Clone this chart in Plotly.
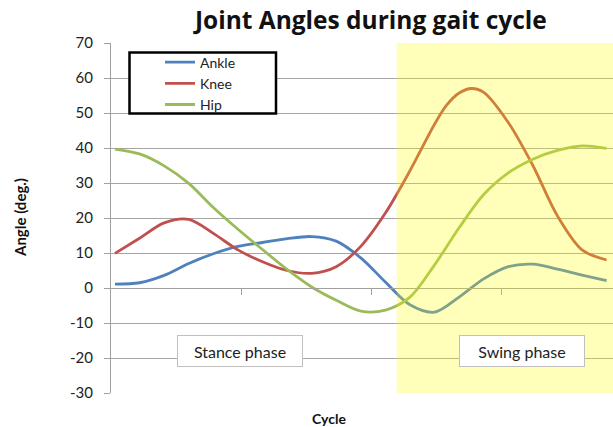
import plotly.graph_objects as go

# ---- data ----
cycle_pct = [0, 5, 10, 15, 20, 25, 30, 35, 40, 45, 50, 55, 60, 65, 70, 75, 80, 85, 90, 95, 100]
ankle = [1.1, 1.5, 3.6, 7.0, 9.8, 11.9, 13.0, 14.1, 14.7, 13.4, 8.6, 1.7, -4.8, -6.9, -2.6, 2.6, 6.1, 6.8, 5.4, 3.7, 2.1]
knee_pct = [0, 5, 10, 15, 20, 25, 30, 35, 40, 45, 50, 55, 60, 65, 67.5, 70, 72.5, 75, 80, 85, 90, 95, 100]
knee = [9.9, 14.2, 18.6, 19.6, 15.6, 10.9, 7.5, 5.0, 4.2, 6.1, 11.9, 21.4, 33.5, 46.8, 52.3, 55.7, 57.0, 55.9, 47.3, 35.0, 20.6, 10.9, 8.0]
hip = [39.7, 38.3, 34.9, 29.9, 23.0, 16.8, 11.0, 5.3, 0.3, -3.5, -6.6, -6.3, -2.6, 6.6, 17.2, 26.7, 32.9, 36.8, 39.3, 40.6, 39.9]
series_names = ["Ankle", "Knee", "Hip"]
swing_start = 57.3
y_ticks = [-30, -20, -10, 0, 10, 20, 30, 40, 50, 60, 70]
y_tick_labels = ["-30", "-20", "-10", "0", "10", "20", "30", "40", "50", "60", "70"]
x_tick_marks = [25.8, 52.2, 78.6]

colors = ["#4F81BD", "#C0504D", "#9BBB59"]
FONT = "Lato"
X_RANGE = [-0.81, 101.3]

fig = go.Figure()
for name, xs, vals, col in zip(series_names, [cycle_pct, knee_pct, cycle_pct], [ankle, knee, hip], colors):
    fig.add_trace(go.Scatter(x=xs, y=vals, name=name, mode="lines",
                             line=dict(color=col, width=2.8, shape="spline", smoothing=0.9)))

fig.update_layout(
    width=613, height=427,
    margin=dict(l=111, r=0, t=43, b=34),
    paper_bgcolor="white", plot_bgcolor="white",
    font=dict(family=FONT, color="#222222", size=14),
    title=dict(text="<b>Joint Angles during gait cycle</b>", x=0.605, xref="container",
               xanchor="center", y=1 - 20 / 427, yref="container", yanchor="middle",
               font=dict(family="Open Sans", size=24.5, color="#111111")),
    showlegend=True,
    legend=dict(x=(160 - 111) / 502, y=(393 - 46.5) / 350, xanchor="left", yanchor="top",
                bgcolor="rgba(0,0,0,0)", borderwidth=0,
                font=dict(family=FONT, size=14, color="#222222"), tracegroupgap=0),
)

fig.update_xaxes(range=X_RANGE, anchor="free", position=0.3, showgrid=False, zeroline=False,
                 showline=True, linecolor="#a0a0a0", linewidth=1,
                 tickmode="array", tickvals=x_tick_marks, ticks="outside", ticklen=6,
                 tickcolor="#a0a0a0", showticklabels=False)
fig.update_yaxes(range=[-30, 70], tickmode="array", tickvals=y_ticks, ticktext=y_tick_labels,
                 showgrid=True, gridcolor="#a6a6a6", gridwidth=1, zeroline=False,
                 showline=True, linecolor="#a0a0a0", linewidth=1,
                 ticks="outside", ticklen=6, tickcolor="#a0a0a0",
                 ticklabelstandoff=8, tickfont=dict(family=FONT, size=15, color="#222222"))

# swing-phase highlight (drawn over the lines, semi-transparent)
fig.add_shape(type="rect", xref="x", yref="y", x0=swing_start, x1=X_RANGE[1], y0=-30, y1=70,
              fillcolor="#FFFF00", opacity=0.27, line=dict(width=0), layer="above")
# legend box
fig.add_shape(type="rect", xref="paper", yref="paper",
              x0=(129.5 - 111) / 502, x1=(276 - 111) / 502,
              y0=(393 - 113.5) / 350, y1=(393 - 52.5) / 350,
              fillcolor="white", line=dict(color="black", width=2.5), layer="above")

for txt, xc in [("Stance phase", 25.4), ("Swing phase", 82.7)]:
    fig.add_annotation(x=xc, y=-18, xref="x", yref="y", text=txt, showarrow=False,
                       font=dict(family=FONT, size=16, color="#222222"),
                       bgcolor="white", bordercolor="#c0c0c0", borderwidth=1,
                       width=122, height=28, borderpad=1, xanchor="center", yanchor="middle")

fig.add_annotation(x=(20 - 111) / 502, y=0.5, xref="paper", yref="paper",
                   text="<b>Angle (deg.)</b>", textangle=-90, showarrow=False,
                   font=dict(family=FONT, size=15, color="#111111"),
                   xanchor="center", yanchor="middle")
fig.add_annotation(x=(329 - 111) / 502, y=(393 - 418) / 350, xref="paper", yref="paper",
                   text="<b>Cycle</b>", showarrow=False,
                   font=dict(family=FONT, size=14, color="#111111"),
                   xanchor="center", yanchor="middle")

fig.write_html("out.html", config={"displayModeBar": False},
               post_script="document.body.style.margin='0';document.body.style.overflow='hidden';")
